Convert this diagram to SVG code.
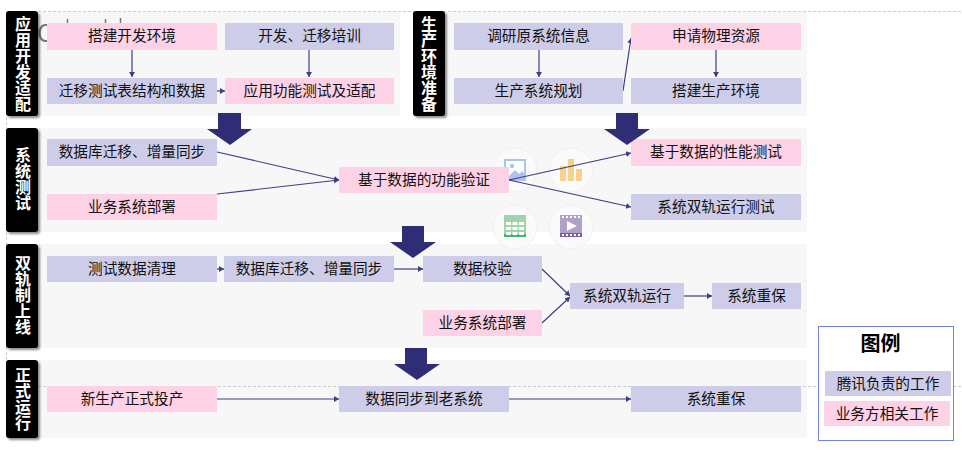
<svg xmlns="http://www.w3.org/2000/svg" width="962" height="452" viewBox="0 0 962 452">
<style>
text{font-family:"Noto Sans CJK SC","Noto Sans",sans-serif}
.p{fill:#f7f7f7}
.l{fill:#cecde9}
.k{fill:#fdd1e6}
.t{font-size:14.67px;fill:#111;text-anchor:middle}
.b{fill:#000;filter:url(#sh)}
.v{font-size:16px;font-weight:700;fill:#fff;text-anchor:middle;writing-mode:vertical-rl;text-orientation:upright}
.c{stroke:#3f3d85;stroke-width:1.2;fill:none;marker-end:url(#a)}
.big{fill:#2f2d75}
.g{stroke:#ccc;stroke-width:1;stroke-dasharray:3 2;fill:none}
.ring{fill:#fafafa;stroke:#f0f0f0;stroke-width:1}
</style>
<defs>
<marker id="a" markerUnits="userSpaceOnUse" markerWidth="6" markerHeight="6" refX="5" refY="3" orient="auto"><path d="M0 0L5 3L0 6Z" fill="#3f3d85"/></marker>
<filter id="sh" x="-30%" y="-10%" width="160%" height="120%"><feDropShadow dx="2" dy="2" stdDeviation="1" flood-color="#000" flood-opacity=".45"/></filter>
</defs>
<g id="panels">
<rect class="p" x="6" y="12" width="394" height="104"/>
<rect class="p" x="413" y="12" width="394" height="104"/>
<rect class="p" x="6" y="128" width="801" height="104"/>
<rect class="p" x="6" y="244" width="801" height="104"/>
<rect class="p" x="6" y="360" width="801" height="78"/>
</g>
<g id="guides">
<path class="g" d="M38 11.500H962M6.500 12V386M38 386.500H962"/>
<text x="37" y="42" font-size="24" fill="#777">O</text>
<path d="M67.500 19V23M105.500 19V23M120.500 18V23" stroke="#777" stroke-width="1.500"/>
</g>
<g id="icons">
<circle class="ring" cx="515" cy="170" r="22"/>
<circle class="ring" cx="571" cy="170" r="22"/>
<circle class="ring" cx="515" cy="227" r="22"/>
<circle class="ring" cx="571" cy="227" r="22"/>
<rect x="505" y="160" width="20" height="20" fill="#fff" stroke="#a9c4ee" stroke-width="2"/>
<circle cx="512" cy="166" r="2.200" fill="#a9c4ee"/>
<path d="M505 180L515 170L519 174L522 171L525 175V180Z" fill="#a9c4ee"/>
<rect x="560" y="166" width="6" height="15" fill="#f7d28b"/>
<rect x="568" y="159" width="6" height="22" fill="#f7d28b"/>
<rect x="576" y="169" width="6" height="12" fill="#f7d28b"/>
<rect x="504" y="215" width="22" height="22" fill="#a0d5ab"/>
<rect x="504" y="234" width="22" height="3" fill="#45b36b"/>
<g fill="#fff"><rect x="506" y="222" width="5" height="3"/><rect x="512.500" y="222" width="5" height="3"/><rect x="519" y="222" width="5" height="3"/><rect x="506" y="227" width="5" height="3"/><rect x="512.500" y="227" width="5" height="3"/><rect x="519" y="227" width="5" height="3"/><rect x="506" y="232" width="5" height="3"/><rect x="512.500" y="232" width="5" height="3"/><rect x="519" y="232" width="5" height="3"/></g>
<rect x="560" y="215" width="22" height="22" fill="#b09fc6"/>
<rect x="560" y="233" width="22" height="4" fill="#7a5ea1"/>
<path d="M562 217H580M562 235H580" stroke="#fff" stroke-width="2" stroke-dasharray="2 2"/>
<path d="M567 221L577 226L567 231Z" fill="#fff"/>
</g>
<g id="connectors">
<path class="c" d="M132 50V77"/>
<path class="c" d="M309 50V77"/>
<path class="c" d="M217 91H225"/>
<path class="c" d="M539 50V77"/>
<path class="c" d="M623 91L631 38"/>
<path class="c" d="M716 50V77"/>
<path class="c" d="M217 152L339 180"/>
<path class="c" d="M217 194L339 180"/>
<path class="c" d="M509 180L631 153"/>
<path class="c" d="M509 180L631 207"/>
<path class="c" d="M217 269H224"/>
<path class="c" d="M394 269H423"/>
<path class="c" d="M542 269L570 296"/>
<path class="c" d="M542 323L570 297"/>
<path class="c" d="M684 296H712"/>
<path class="c" d="M217 399H339"/>
<path class="c" d="M509 399H631"/>
</g>
<g id="stage-1"><rect class="b" x="6" y="11" width="32" height="105" rx="3"/><text class="v" x="23" y="63.500">应用开发适配</text></g>
<g id="stage-2"><rect class="b" x="413" y="11" width="32" height="105" rx="3"/><text class="v" x="429" y="63.500">生产环境准备</text></g>
<g id="stage-3"><rect class="b" x="6" y="128" width="32" height="104" rx="3"/><text class="v" x="23" y="179">系统测试</text></g>
<g id="stage-4"><rect class="b" x="6" y="244" width="32" height="104" rx="3"/><text class="v" x="23" y="295">双轨制上线</text></g>
<g id="stage-5"><rect class="b" x="6" y="360" width="32" height="78" rx="3"/><text class="v" x="23" y="399">正式运行</text></g>
<g id="n1"><rect class="k" x="47" y="23" width="170" height="27"/><text class="t" x="132" y="41">搭建开发环境</text></g>
<g id="n2"><rect class="l" x="225" y="23" width="169" height="27"/><text class="t" x="309.500" y="41">开发、迁移培训</text></g>
<g id="n3"><rect class="l" x="47" y="78" width="170" height="26"/><text class="t" x="132" y="96">迁移测试表结构和数据</text></g>
<g id="n4"><rect class="k" x="225" y="78" width="169" height="26"/><text class="t" x="309.500" y="96">应用功能测试及适配</text></g>
<g id="n5"><rect class="l" x="454" y="23" width="169" height="27"/><text class="t" x="538.500" y="41">调研原系统信息</text></g>
<g id="n6"><rect class="k" x="631" y="23" width="170" height="27"/><text class="t" x="716" y="41">申请物理资源</text></g>
<g id="n7"><rect class="l" x="454" y="78" width="169" height="26"/><text class="t" x="538.500" y="96">生产系统规划</text></g>
<g id="n8"><rect class="l" x="631" y="78" width="170" height="26"/><text class="t" x="716" y="96">搭建生产环境</text></g>
<g id="n9"><rect class="l" x="47" y="139" width="170" height="27"/><text class="t" x="132" y="157">数据库迁移、增量同步</text></g>
<g id="n10"><rect class="k" x="47" y="194" width="170" height="26"/><text class="t" x="132" y="212">业务系统部署</text></g>
<g id="n11"><rect class="k" x="339" y="167" width="170" height="26"/><text class="t" x="424" y="185">基于数据的功能验证</text></g>
<g id="n12"><rect class="k" x="631" y="139" width="170" height="27"/><text class="t" x="716" y="157">基于数据的性能测试</text></g>
<g id="n13"><rect class="l" x="631" y="194" width="170" height="26"/><text class="t" x="716" y="212">系统双轨运行测试</text></g>
<g id="n14"><rect class="l" x="47" y="256" width="170" height="26"/><text class="t" x="132" y="274">测试数据清理</text></g>
<g id="n15"><rect class="l" x="224" y="256" width="170" height="26"/><text class="t" x="309" y="274">数据库迁移、增量同步</text></g>
<g id="n16"><rect class="l" x="423" y="256" width="119" height="26"/><text class="t" x="482.500" y="274">数据校验</text></g>
<g id="n17"><rect class="k" x="423" y="310" width="119" height="26"/><text class="t" x="482.500" y="328">业务系统部署</text></g>
<g id="n18"><rect class="l" x="570" y="283" width="114" height="26"/><text class="t" x="627" y="301">系统双轨运行</text></g>
<g id="n19"><rect class="l" x="712" y="283" width="89" height="26"/><text class="t" x="756.500" y="301">系统重保</text></g>
<g id="n20"><rect class="k" x="47" y="386" width="170" height="26"/><text class="t" x="132" y="404">新生产正式投产</text></g>
<g id="n21"><rect class="l" x="339" y="386" width="170" height="26"/><text class="t" x="424" y="404">数据同步到老系统</text></g>
<g id="n22"><rect class="l" x="631" y="386" width="170" height="26"/><text class="t" x="716" y="404">系统重保</text></g>
<g id="flow-arrows">
<path class="big" d="M218 113H241V129H252L230 145L207 129H218Z"/>
<path class="big" d="M616 113H638V129H650L627 145L604 129H616Z"/>
<path class="big" d="M402 226H424V242H436L413 258L390 242H402Z"/>
<path class="big" d="M405 348H427V364H440L417 380L394 364H405Z"/>
</g>
<g id="legend">
<rect x="818.500" y="326.500" width="135" height="114" fill="#fff" stroke="#6f7fe8" stroke-width="1"/>
<text x="880.500" y="351" font-size="20" font-weight="700" fill="#000" text-anchor="middle">图例</text>
<rect class="l" x="825" y="371" width="126" height="25"/><text class="t" x="888" y="389">腾讯负责的工作</text>
<rect class="k" x="824" y="401" width="126" height="25"/><text class="t" x="887" y="419">业务方相关工作</text>
</g>
</svg>
